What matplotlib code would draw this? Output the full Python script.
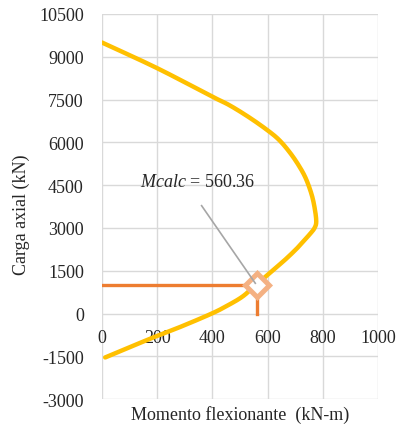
import matplotlib
matplotlib.use("Agg")
import matplotlib.pyplot as plt
import numpy as np

# Interaction curve (moment kN-m, axial load kN)
momento = [0, 200, 402, 462, 534, 600, 642, 680, 712, 738, 760, 772, 776, 770, 758, 738, 710, 665, 611, 557, 510, 455, 398, 289, 196, 96, 12]
carga = [9500, 8600, 7590, 7300, 6870, 6420, 6080, 5650, 5200, 4740, 4150, 3600, 3200, 3000, 2840, 2620, 2320, 1900, 1450, 1000, 600, 280, 0, -450, -800, -1200, -1540]

# Design point
m_calc = 560.36
p_u = 1000
punto_m = [0, m_calc, m_calc]
punto_p = [p_u, p_u, 0]

x_ticks = [0, 200, 400, 600, 800, 1000]
y_ticks = [-3000, -1500, 0, 1500, 3000, 4500, 6000, 7500, 9000, 10500]


def catmull_rom(xs, ys, n=20):
    """Smooth drawing path through the given points (like Excel's smoothed line)."""
    pts = np.column_stack([xs, ys]).astype(float)
    p = np.vstack([pts[0] * 2 - pts[1], pts, pts[-1] * 2 - pts[-2]])
    out = []
    for i in range(1, len(p) - 2):
        p0, p1, p2, p3 = p[i - 1], p[i], p[i + 1], p[i + 2]
        t = np.linspace(0, 1, n, endpoint=False)[:, None]
        seg = 0.5 * ((2 * p1) + (-p0 + p2) * t + (2 * p0 - 5 * p1 + 4 * p2 - p3) * t ** 2
                     + (-p0 + 3 * p1 - 3 * p2 + p3) * t ** 3)
        out.append(seg)
    out.append(pts[-1][None, :])
    out = np.vstack(out)
    return out[:, 0], out[:, 1]


plt.rcParams['font.family'] = ['Liberation Serif', 'DejaVu Serif']
plt.rcParams['mathtext.fontset'] = 'custom'
plt.rcParams['mathtext.it'] = 'Liberation Serif:italic'
plt.rcParams['mathtext.rm'] = 'Liberation Serif'
plt.rcParams['axes.unicode_minus'] = False

fig = plt.figure(figsize=(3.98, 4.27), dpi=100)
ax = fig.add_axes([0.256, 0.063, 0.694, 0.902])

ax.set_xlim(0, 1000)
ax.set_ylim(-3000, 10500)
ax.set_xticks(x_ticks)
ax.set_yticks(y_ticks)
ax.grid(True, color='#D9D9D9', linewidth=1.0)
ax.set_axisbelow(True)
for s in ax.spines.values():
    s.set_visible(False)
ax.spines['bottom'].set_position(('data', 0))
ax.tick_params(length=0, labelsize=13, colors='#262626')
ax.tick_params(axis='x', pad=11.5)
ax.tick_params(axis='y', pad=13)

sx, sy = catmull_rom(momento, carga)
ax.plot(sx, sy, color='#FFC000', linewidth=3.2, solid_capstyle='round',
        solid_joinstyle='round', zorder=3)
ax.plot(punto_m, punto_p, color='#ED7D31', linewidth=2.4, zorder=4)
ax.plot([m_calc], [p_u], marker='D', markersize=12.5, markerfacecolor='white',
        markeredgecolor='#F4B183', markeredgewidth=3.6, linestyle='none', zorder=5)

ax.plot([361, m_calc - 5], [3780, p_u + 60], color='#A6A6A6', linewidth=1.2, zorder=6)
ax.text(138, 4620, r'$\mathit{Mcalc}$ = 560.36', fontsize=13, color='#262626',
        ha='left', va='center', zorder=7)

ax.set_xlabel('Momento flexionante  (kN-m)', fontsize=13, color='#262626', va='center')
ax.xaxis.set_label_coords(0.5, -0.039)
ax.set_ylabel('Carga axial (kN)', fontsize=13, color='#262626')
ax.yaxis.set_label_coords(-0.26, 0.48)

fig.savefig('out.png', dpi=100)
